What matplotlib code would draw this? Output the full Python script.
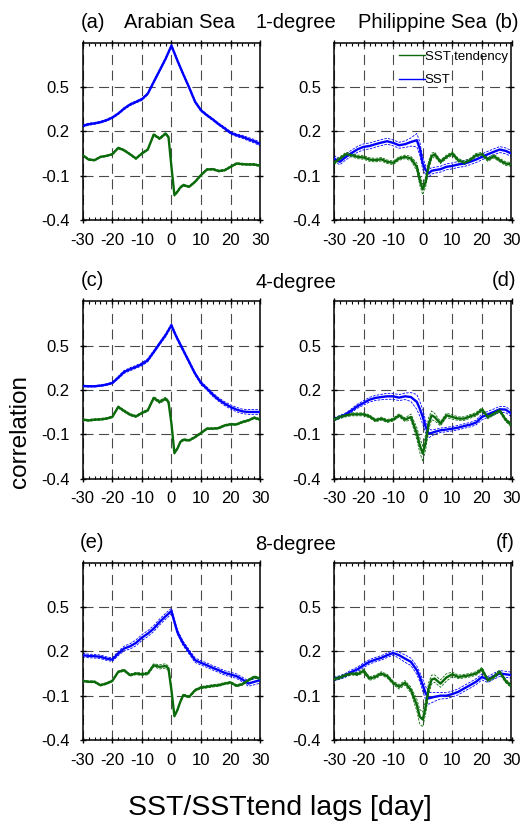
"""Lagged correlation of SST / SST tendency, Arabian Sea vs Philippine Sea."""

import matplotlib
matplotlib.use("Agg")
import matplotlib.pyplot as plt
from matplotlib.ticker import MultipleLocator
import numpy as np

plt.rcParams["font.family"] = ["Liberation Sans", "DejaVu Sans"]
plt.rcParams["axes.unicode_minus"] = False

COLOR_SST = "#0000ff"
COLOR_TEND = "#0b6b0b"
COLOR_GRID = "#4a4a4a"

# lag [day]
LAGS = [-30, -28, -26, -24, -22, -20, -18, -16, -14, -12, -10, -8, -6, -4, -2,
        -1, 0, 1, 2, 3, 4,
        6, 8, 10, 12, 14, 16, 18, 20, 22, 24, 26, 28, 30]

# (a) Arabian Sea, 1-degree
SST_A = [0.237, 0.248, 0.254, 0.262, 0.275, 0.293, 0.32, 0.354, 0.381, 0.399, 0.417, 0.455, 0.534, 0.612, 0.69,
         0.735, 0.78, 0.73, 0.68, 0.633, 0.586,
         0.496, 0.40, 0.342, 0.309, 0.28, 0.248, 0.22, 0.19, 0.174, 0.163, 0.147, 0.133, 0.113]
TEND_A = [0.039, 0.009, 0.005, 0.027, 0.034, 0.045, 0.088, 0.072, 0.045, 0.016, 0.05, 0.077, 0.178, 0.151, 0.185,
          0.162, -0.04, -0.231, -0.209, -0.18, -0.164,
          -0.175, -0.141, -0.096, -0.058, -0.056, -0.069, -0.063, -0.04, -0.018, -0.022, -0.024, -0.024, -0.033]
SST_A_ERR = [0.008, 0.007, 0.006, 0.006, 0.006, 0.006, 0.006, 0.007, 0.007, 0.007, 0.007, 0.007, 0.008, 0.008, 0.008,
             0.008, 0.008, 0.008, 0.008, 0.008, 0.008,
             0.008, 0.008, 0.007, 0.007, 0.007, 0.007, 0.008, 0.008, 0.009, 0.01, 0.011, 0.012, 0.012]
TEND_A_ERR = [0.006, 0.006, 0.005, 0.005, 0.005, 0.005, 0.006, 0.006, 0.006, 0.006, 0.006, 0.006, 0.007, 0.007, 0.007,
              0.007, 0.008, 0.008, 0.007, 0.007, 0.007,
              0.006, 0.006, 0.006, 0.006, 0.006, 0.006, 0.006, 0.006, 0.006, 0.006, 0.006, 0.006, 0.006]

# (b) Philippine Sea, 1-degree
SST_B = [0.016, -0.006, 0.027, 0.054, 0.079, 0.095, 0.101, 0.113, 0.124, 0.133, 0.122, 0.106, 0.113, 0.128, 0.14,
         0.084, -0.017, -0.063, -0.085, -0.067, -0.063,
         -0.056, -0.04, -0.034, -0.024, -0.018, -0.006, 0.009, 0.027, 0.045, 0.061, 0.077, 0.068, 0.05]
TEND_B = [-0.013, 0.016, 0.045, 0.039, 0.027, 0.023, 0.009, 0.005, 0.011, -0.006, -0.013, 0.016, 0.027, 0.016, -0.04,
          -0.13, -0.193, -0.141, -0.029, 0.032, 0.045,
          -0.006, 0.027, 0.05, 0.005, -0.013, 0.005, 0.039, 0.045, 0.009, 0.032, 0.005, -0.018, -0.024]
SST_B_ERR = [0.02, 0.02, 0.02, 0.02, 0.02, 0.02, 0.02, 0.02, 0.02, 0.02, 0.02, 0.02, 0.022, 0.028, 0.045,
             0.045, 0.04, 0.03, 0.025, 0.022, 0.02,
             0.02, 0.02, 0.02, 0.02, 0.02, 0.02, 0.02, 0.02, 0.02, 0.02, 0.02, 0.02, 0.02]
TEND_B_ERR = [0.012, 0.012, 0.012, 0.012, 0.012, 0.012, 0.012, 0.012, 0.012, 0.012, 0.012, 0.012, 0.012, 0.015, 0.025,
              0.035, 0.035, 0.035, 0.03, 0.02, 0.015,
              0.012, 0.012, 0.012, 0.012, 0.012, 0.012, 0.012, 0.012, 0.012, 0.012, 0.012, 0.012, 0.012]

# (c) Arabian Sea, 4-degree
SST_C = [0.227, 0.225, 0.225, 0.229, 0.236, 0.247, 0.283, 0.322, 0.34, 0.356, 0.374, 0.401, 0.457, 0.514, 0.57,
         0.604, 0.638, 0.59, 0.547, 0.508, 0.468,
         0.389, 0.31, 0.247, 0.209, 0.168, 0.134, 0.107, 0.085, 0.067, 0.055, 0.051, 0.051, 0.051]
TEND_C = [-0.001, -0.006, -0.001, 0.001, 0.006, 0.017, 0.085, 0.058, 0.033, 0.021, 0.044, 0.062, 0.146, 0.119, 0.141,
          0.119, -0.028, -0.227, -0.197, -0.152, -0.137,
          -0.141, -0.119, -0.091, -0.062, -0.062, -0.058, -0.04, -0.033, -0.033, -0.017, -0.006, 0.012, -0.001]
SST_C_ERR = [0.005, 0.005, 0.005, 0.005, 0.005, 0.006, 0.008, 0.01, 0.01, 0.01, 0.01, 0.01, 0.01, 0.01, 0.01,
             0.01, 0.01, 0.01, 0.01, 0.01, 0.01,
             0.01, 0.01, 0.01, 0.01, 0.012, 0.012, 0.013, 0.014, 0.015, 0.015, 0.016, 0.016, 0.016]
TEND_C_ERR = [0.006, 0.006, 0.006, 0.006, 0.006, 0.006, 0.007, 0.007, 0.007, 0.007, 0.007, 0.007, 0.009, 0.01, 0.01,
              0.01, 0.008, 0.007, 0.007, 0.007, 0.007,
              0.006, 0.006, 0.006, 0.006, 0.006, 0.006, 0.006, 0.006, 0.006, 0.006, 0.006, 0.006, 0.006]

# (d) Philippine Sea, 4-degree
SST_D = [0.001, 0.017, 0.035, 0.062, 0.091, 0.112, 0.134, 0.146, 0.152, 0.157, 0.157, 0.148, 0.157, 0.152, 0.119,
         0.073, 0.017, -0.05, -0.095, -0.091, -0.084,
         -0.073, -0.068, -0.062, -0.055, -0.044, -0.035, -0.021, 0.017, 0.035, 0.051, 0.069, 0.067, 0.04]
TEND_D = [-0.001, 0.017, 0.028, 0.035, 0.035, 0.035, 0.021, -0.006, 0.006, -0.01, -0.001, 0.028, -0.001, 0.017, -0.095,
          -0.174, -0.231, -0.152, -0.028, 0.028, 0.017,
          -0.028, 0.028, 0.017, 0.006, 0.006, 0.021, 0.035, 0.067, 0.017, 0.04, 0.062, -0.001, -0.039]
SST_D_ERR = [0.01, 0.01, 0.01, 0.012, 0.014, 0.015, 0.016, 0.017, 0.018, 0.02, 0.02, 0.02, 0.022, 0.03, 0.05,
             0.05, 0.05, 0.04, 0.03, 0.02, 0.016,
             0.015, 0.015, 0.015, 0.015, 0.015, 0.015, 0.016, 0.02, 0.02, 0.02, 0.02, 0.02, 0.02]
TEND_D_ERR = [0.01, 0.01, 0.01, 0.01, 0.01, 0.01, 0.01, 0.01, 0.01, 0.01, 0.01, 0.01, 0.012, 0.02, 0.04,
              0.05, 0.05, 0.05, 0.04, 0.03, 0.025,
              0.015, 0.015, 0.015, 0.012, 0.012, 0.012, 0.012, 0.012, 0.012, 0.012, 0.012, 0.012, 0.012]

# (e) Arabian Sea, 8-degree
SST_E = [0.174, 0.169, 0.167, 0.163, 0.151, 0.144, 0.185, 0.219, 0.234, 0.257, 0.293, 0.32, 0.354, 0.399, 0.437,
         0.455, 0.473, 0.40, 0.331, 0.29, 0.252,
         0.196, 0.14, 0.122, 0.106, 0.088, 0.072, 0.054, 0.043, 0.032, 0.009, -0.018, -0.006, 0.005]
TEND_E = [0.0, -0.006, -0.006, -0.029, -0.018, 0.0, 0.061, 0.072, 0.039, 0.05, 0.045, 0.05, 0.106, 0.095, 0.101,
          0.084, -0.063, -0.238, -0.198, -0.141, -0.096,
          -0.108, -0.063, -0.045, -0.04, -0.033, -0.029, -0.018, -0.011, -0.033, -0.022, 0.005, 0.027, 0.016]
SST_E_ERR = [0.012, 0.012, 0.012, 0.012, 0.012, 0.012, 0.014, 0.016, 0.018, 0.02, 0.02, 0.02, 0.02, 0.02, 0.02,
             0.02, 0.018, 0.015, 0.015, 0.015, 0.015,
             0.015, 0.015, 0.015, 0.015, 0.015, 0.015, 0.015, 0.015, 0.015, 0.016, 0.018, 0.02, 0.02]
TEND_E_ERR = [0.006, 0.006, 0.006, 0.006, 0.006, 0.006, 0.006, 0.007, 0.007, 0.008, 0.008, 0.009, 0.01, 0.014, 0.015,
              0.015, 0.01, 0.007, 0.007, 0.007, 0.007,
              0.007, 0.007, 0.007, 0.008, 0.008, 0.008, 0.007, 0.007, 0.007, 0.007, 0.007, 0.007, 0.007]

# (f) Philippine Sea, 8-degree
SST_F = [0.012, 0.023, 0.039, 0.061, 0.079, 0.106, 0.129, 0.144, 0.156, 0.174, 0.189, 0.174, 0.151, 0.129, 0.072,
         0.027, -0.029, -0.084, -0.118, -0.113, -0.108,
         -0.1, -0.1, -0.089, -0.074, -0.051, -0.029, -0.006, 0.027, 0.009, 0.032, 0.05, 0.045, 0.039]
TEND_F = [0.012, 0.023, 0.039, 0.05, 0.045, 0.068, 0.016, 0.027, 0.05, 0.032, -0.013, -0.04, -0.013, -0.062, -0.163,
          -0.243, -0.261, -0.175, -0.051, 0.009, 0.016,
          -0.018, 0.023, 0.045, 0.027, 0.032, 0.039, 0.05, 0.079, 0.005, 0.027, 0.061, 0.0, -0.036]
SST_F_ERR = [0.012, 0.012, 0.013, 0.014, 0.015, 0.015, 0.015, 0.015, 0.015, 0.015, 0.015, 0.02, 0.025, 0.025, 0.028,
             0.03, 0.04, 0.045, 0.04, 0.035, 0.03,
             0.022, 0.02, 0.02, 0.02, 0.02, 0.02, 0.02, 0.02, 0.02, 0.02, 0.02, 0.02, 0.02]
TEND_F_ERR = [0.01, 0.01, 0.01, 0.01, 0.01, 0.012, 0.012, 0.012, 0.012, 0.012, 0.012, 0.015, 0.015, 0.02, 0.04,
              0.05, 0.05, 0.045, 0.04, 0.03, 0.025,
              0.025, 0.025, 0.015, 0.012, 0.012, 0.012, 0.012, 0.012, 0.012, 0.012, 0.012, 0.012, 0.012]

Y_TICKS = [-0.4, -0.1, 0.2, 0.5]
Y_TICKLABELS = ["-0.4", "-0.1", "0.2", "0.5"]
X_TICKS = [-30, -20, -10, 0, 10, 20, 30]
X_TICKLABELS = ["-30", "-20", "-10", "0", "10", "20", "30"]

PANELS = [
    (SST_A, SST_A_ERR, TEND_A, TEND_A_ERR),
    (SST_B, SST_B_ERR, TEND_B, TEND_B_ERR),
    (SST_C, SST_C_ERR, TEND_C, TEND_C_ERR),
    (SST_D, SST_D_ERR, TEND_D, TEND_D_ERR),
    (SST_E, SST_E_ERR, TEND_E, TEND_E_ERR),
    (SST_F, SST_F_ERR, TEND_F, TEND_F_ERR),
]

W, H = 522, 824
fig = plt.figure(figsize=(W / 100, H / 100), dpi=100)

COL_X = [82.7, 334.0]      # left edge of axes, px
ROW_TOP = [42.7, 301.3, 562.7]  # top edge of axes, px
AX_W, AX_H = 177.5, 177.3


def draw_panel(ax, sst, sst_err, tend, tend_err):
    lag = np.array(LAGS)
    handles = []
    for vals, err, color in ((sst, sst_err, COLOR_SST), (tend, tend_err, COLOR_TEND)):
        v = np.array(vals)
        e = np.array(err)
        ax.plot(lag, v + e, color=color, lw=0.6, ls=(0, (3, 1.5)), zorder=2)
        ax.plot(lag, v - e, color=color, lw=0.6, ls=(0, (3, 1.5)), zorder=2)
        line, = ax.plot(lag, v, color=color, lw=1.7, zorder=3)
        handles.append(line)

    ax.set_xlim(-30, 30)
    ax.set_ylim(-0.4, 0.8)
    ax.set_xticks(X_TICKS)
    ax.set_xticklabels(X_TICKLABELS)
    ax.set_yticks(Y_TICKS)
    ax.set_yticklabels(Y_TICKLABELS)
    ax.xaxis.set_minor_locator(MultipleLocator(2))
    ax.tick_params(which="major", direction="inout", length=4.5, width=1.0,
                   top=True, right=True, labelsize=12, pad=7, colors="black")
    ax.tick_params(which="minor", axis="x", direction="in", length=2.2, width=0.8,
                   top=True, bottom=True)
    ax.grid(which="major", color=COLOR_GRID, lw=0.8, ls=(0, (9, 5)))
    for spine in ax.spines.values():
        spine.set_linewidth(1.1)
    return handles


axes = []
for i, (sst, sst_err, tend, tend_err) in enumerate(PANELS):
    row, col = divmod(i, 2)
    x0 = COL_X[col] / W
    y0 = 1 - (ROW_TOP[row] + AX_H) / H
    ax = fig.add_axes([x0, y0, AX_W / W, AX_H / H])
    handles = draw_panel(ax, sst, sst_err, tend, tend_err)
    axes.append((ax, handles))

# legend in panel (b)
ax_b = axes[1][0]
leg_sst = plt.Line2D([], [], color=COLOR_SST, lw=1.0)
leg_tend = plt.Line2D([], [], color=COLOR_TEND, lw=1.0)
ax_b.legend([leg_tend, leg_sst], ["SST tendency", "SST"], loc="upper left",
            bbox_to_anchor=(0.366, 0.955), frameon=False, fontsize=9.5,
            handlelength=1.95, handletextpad=0.0, borderpad=0, borderaxespad=0,
            labelspacing=0.85)


def ftext(x, y, s, **kw):
    fig.text(x / W, 1 - y / H, s, ha="center", va="center", **kw)


TITLE_FS = 14.5
ftext(93, 22, "(a)", fontsize=TITLE_FS)
ftext(180, 23, "Arabian Sea", fontsize=TITLE_FS)
ftext(296, 23, "1-degree", fontsize=TITLE_FS)
ftext(422, 23, "Philippine Sea", fontsize=TITLE_FS)
ftext(507, 22, "(b)", fontsize=TITLE_FS)

ftext(92, 281, "(c)", fontsize=TITLE_FS)
ftext(296, 283, "4-degree", fontsize=TITLE_FS)
ftext(504, 281, "(d)", fontsize=TITLE_FS)

ftext(92, 542, "(e)", fontsize=TITLE_FS)
ftext(296, 544, "8-degree", fontsize=TITLE_FS)
ftext(505, 542, "(f)", fontsize=TITLE_FS)

ftext(20, 432, "correlation", fontsize=17.5, rotation=90)
ftext(280, 808, "SST/SSTtend lags [day]", fontsize=20.5)

fig.savefig("out.png", dpi=100)
